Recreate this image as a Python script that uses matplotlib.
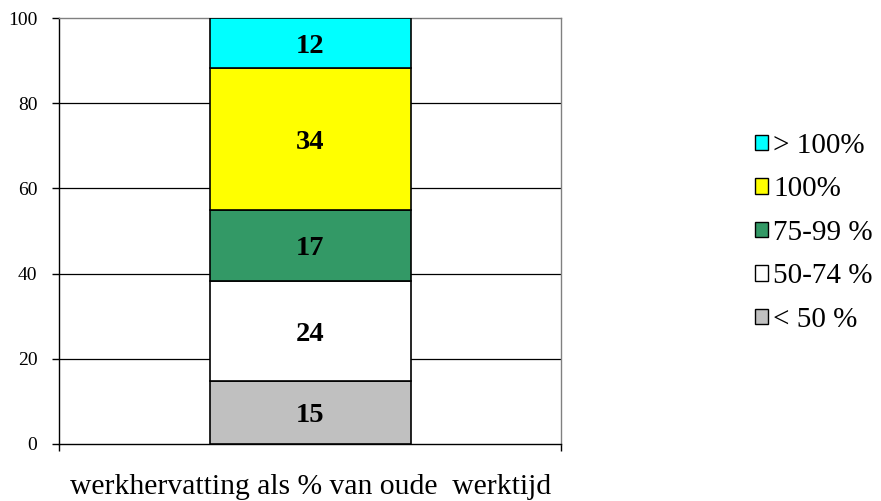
import numpy as np
import matplotlib
matplotlib.use("Agg")
import matplotlib.pyplot as plt
from matplotlib.patches import Patch

plt.rcParams['font.family'] = ['Liberation Serif', 'DejaVu Serif']

# data (bottom to top)
categories = ["< 50 %", "50-74 %", "75-99 %", "100%", "> 100%"]
values = [15, 24, 17, 34, 12]
colors = ["#C0C0C0", "#FFFFFF", "#339966", "#FFFF00", "#00FFFF"]
xlabel = "werkhervatting als % van oude  werktijd"

# 100% stacked
vals = np.array(values, dtype=float)
heights = vals / vals.sum() * 100

fig = plt.figure(figsize=(8.81, 5.01), dpi=100)
ax = fig.add_axes([0.067, 0.114, 0.570, 0.850])

bottom = 0
for h, v, c in zip(heights, values, colors):
    ax.bar(0, h, width=0.4, bottom=bottom, color=c, edgecolor="black", linewidth=1.2, zorder=3)
    ax.text(0, bottom + h / 2, str(v), ha="center", va="center_baseline",
            fontsize=20.5, fontweight="bold", zorder=4)
    bottom += h

ax.set_xlim(-0.5, 0.5)
ax.set_ylim(0, 100)
ax.set_yticks([0, 20, 40, 60, 80, 100])
ax.tick_params(axis="y", labelsize=14, length=5, width=1, direction="out", pad=10.5)
ax.set_xticks([-0.5, 0.5])
ax.set_xticklabels([])
ax.tick_params(axis="x", length=5, width=1, direction="out")

for y in [20, 40, 60, 80]:
    ax.axhline(y, color="black", linewidth=0.9, zorder=1)

ax.spines["left"].set_color("black")
ax.spines["bottom"].set_color("black")
ax.spines["top"].set_color("#808080")
ax.spines["right"].set_color("#808080")
for s in ax.spines.values():
    s.set_linewidth(1)

ax.set_xlabel(xlabel, fontsize=21.3)
ax.xaxis.set_label_coords(0.5, -0.07)

handles = [Patch(facecolor=c, edgecolor="black", linewidth=1, label=l)
           for c, l in zip(colors, categories)][::-1]
fig.legend(handles=handles, loc="center left", bbox_to_anchor=(0.857, 0.535),
           frameon=False, fontsize=21, handlelength=0.43, handleheight=0.43,
           handletextpad=0.2, labelspacing=0.6, borderaxespad=0, borderpad=0)

fig.savefig("out.png", dpi=100)
